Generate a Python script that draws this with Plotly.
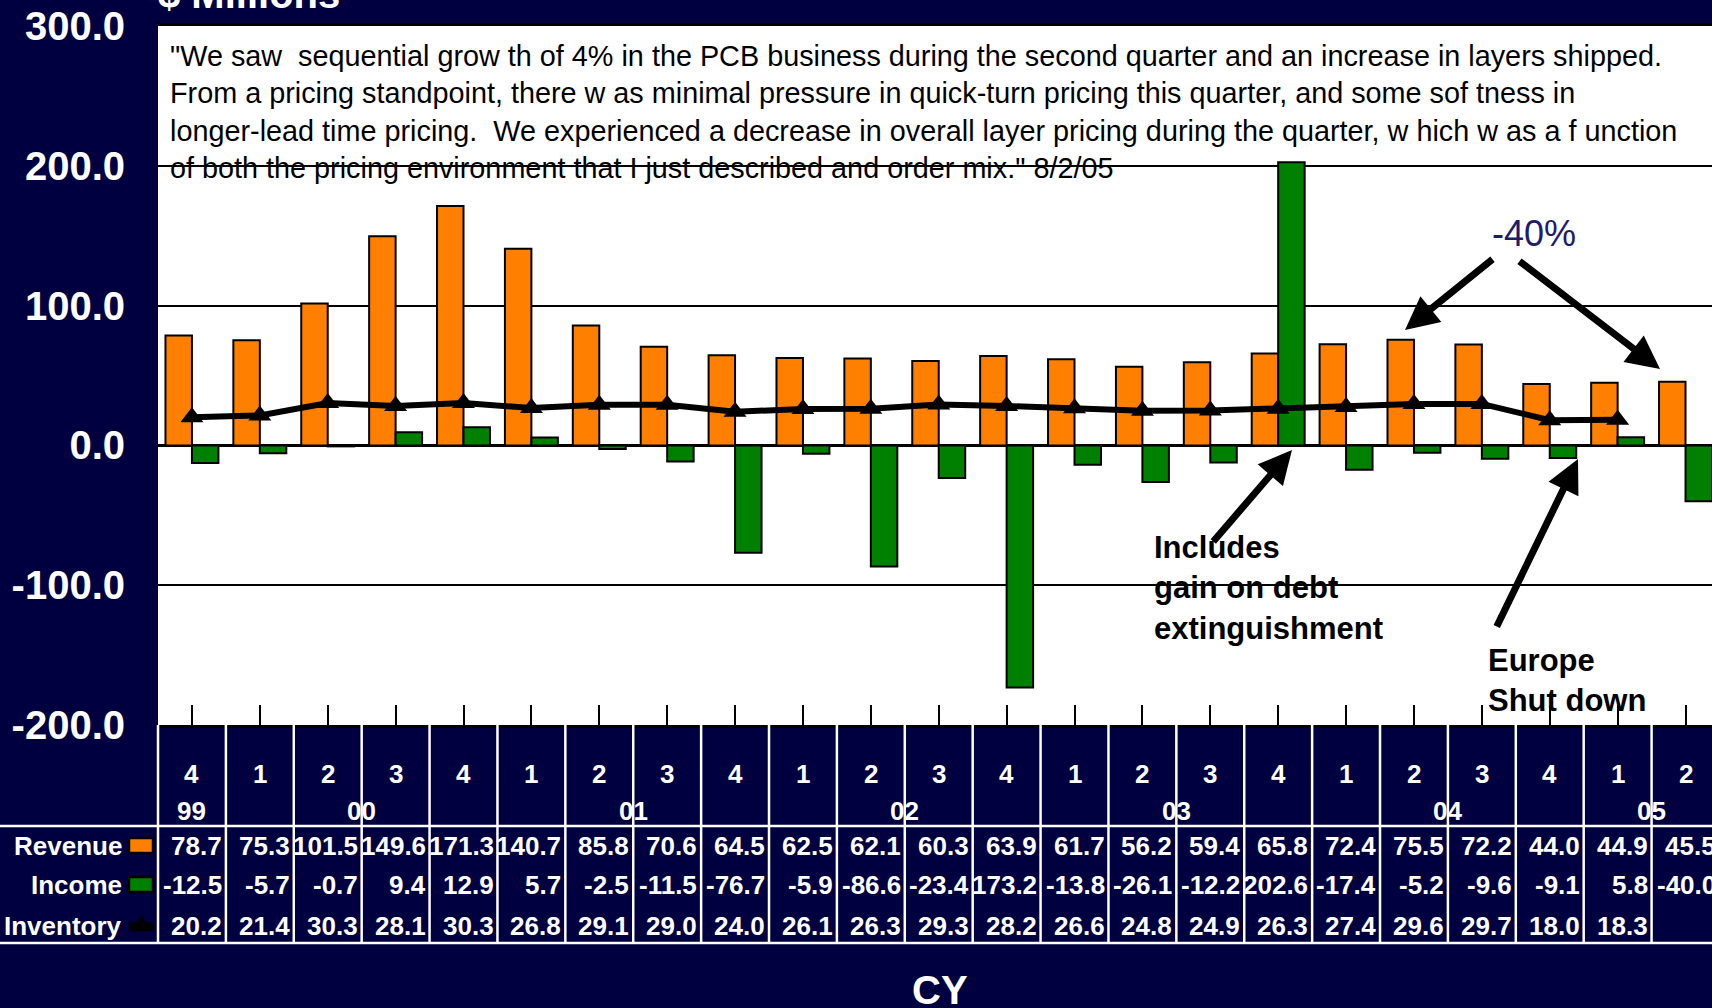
import plotly.graph_objects as go

# ---------------- data ----------------
QUARTERS = ["4Q99", "1Q00", "2Q00", "3Q00", "4Q00", "1Q01", "2Q01", "3Q01", "4Q01",
            "1Q02", "2Q02", "3Q02", "4Q02", "1Q03", "2Q03", "3Q03", "4Q03",
            "1Q04", "2Q04", "3Q04", "4Q04", "1Q05", "2Q05"]
QTR_LABELS = ["4", "1", "2", "3", "4", "1", "2", "3", "4", "1", "2", "3", "4",
              "1", "2", "3", "4", "1", "2", "3", "4", "1", "2"]
YEAR_OF_QTR = ["99", "00", "00", "00", "00", "01", "01", "01", "01", "02", "02", "02", "02",
               "03", "03", "03", "03", "04", "04", "04", "04", "05", "05"]
YEAR_LABELS = ["99", "00", "01", "02", "03", "04", "05"]

REVENUE = [78.7, 75.3, 101.5, 149.6, 171.3, 140.7, 85.8, 70.6, 64.5, 62.5, 62.1, 60.3,
           63.9, 61.7, 56.2, 59.4, 65.8, 72.4, 75.5, 72.2, 44.0, 44.9, 45.5]
INCOME = [-12.5, -5.7, -0.7, 9.4, 12.9, 5.7, -2.5, -11.5, -76.7, -5.9, -86.6, -23.4,
          -173.2, -13.8, -26.1, -12.2, 202.6, -17.4, -5.2, -9.6, -9.1, 5.8, -40.0]
INVENTORY = [20.2, 21.4, 30.3, 28.1, 30.3, 26.8, 29.1, 29.0, 24.0, 26.1, 26.3, 29.3,
             28.2, 26.6, 24.8, 24.9, 26.3, 27.4, 29.6, 29.7, 18.0, 18.3, None]

Y_TICKS = [-200, -100, 0, 100, 200, 300]

QUOTE = ('"We saw  sequential grow th of 4% in the PCB business during the second quarter and an increase in layers shipped.<br>'
         'From a pricing standpoint, there w as minimal pressure in quick-turn pricing this quarter, and some sof tness in<br>'
         'longer-lead time pricing.  We experienced a decrease in overall layer pricing during the quarter, w hich w as a f unction<br>'
         'of both the pricing environment that I just described and order mix." 8/2/05')

# ---------------- style / layout ----------------
NAVY = "#000040"
ORANGE = "#FF8000"
GREEN = "#008000"
FONT = "Liberation Sans, Arial, sans-serif"
W, H = 1712, 1008
PL, PR, PT, PB = 158, 1712, 26, 725
X_RANGE = [-0.5, 22.39]


def px(x):
    return (x - PL) / (PR - PL)


def py(y):
    return (PB - y) / (PB - PT)


def xp(k):
    return (k - X_RANGE[0]) / (X_RANGE[1] - X_RANGE[0])


def fmt(v):
    # table cells clip text that is wider than the cell
    return ("%.1f" % v)[-5:]


fig = go.Figure()
fig.add_trace(go.Bar(x=QUARTERS, y=REVENUE, name="Revenue",
                     marker=dict(color=ORANGE, line=dict(color="black", width=2))))
fig.add_trace(go.Bar(x=QUARTERS, y=INCOME, name="Income",
                     marker=dict(color=GREEN, line=dict(color="black", width=2))))
fig.add_trace(go.Scatter(x=QUARTERS, y=INVENTORY, name="Inventory", mode="lines+markers",
                         line=dict(color="black", width=6),
                         marker=dict(symbol="triangle-up", size=20, color="black")))

ann = []
shapes = []


def text_ann(x, y, text, font, xanchor="center", yanchor="middle", xref="paper", **kw):
    d = dict(xref=xref, yref="paper", x=x, y=y, text=text, showarrow=False,
             xanchor=xanchor, yanchor=yanchor, font=font)
    d.update(kw)
    ann.append(d)


# quote text
text_ann(px(168), py(112.5), QUOTE, dict(family=FONT, size=28.8, color="black"),
         xanchor="left", align="left")

# $ Millions (partially clipped at top)
text_ann(px(156), py(-6), "$ Millions", dict(family=FONT, size=40, color="white", weight="bold"),
         xanchor="left")

# -40% and arrows
text_ann(px(1534), py(233), "-40%", dict(family=FONT, size=36, color="#1c1c6e"))
ARROWS = [  # (head_x, head_y, tail_x, tail_y) in pixels
    (1405, 330, 1494, 258),
    (1660, 369, 1518, 260),
    (1292, 450, 1212, 543),
    (1578, 459, 1496, 628),
]
for hx, hy, tx, ty in ARROWS:
    ann.append(dict(xref="paper", yref="paper", x=px(hx), y=py(hy), ax=tx - hx, ay=ty - hy,
                    text="", showarrow=True, arrowhead=2, arrowsize=0.95, arrowwidth=7,
                    arrowcolor="black", standoff=0))

BOLD31 = dict(family=FONT, size=31, color="black", weight="bold")
text_ann(px(1152), py(588), "Includes<br>gain on debt<br>extinguishment", BOLD31,
         xanchor="left", align="left")
text_ann(px(1486), py(680), "Europe<br>Shut down", BOLD31, xanchor="left", align="left")

# ---------------- data table below the axis ----------------
TF = dict(family=FONT, size=26, color="white", weight="bold")
for i, q in enumerate(QTR_LABELS):
    text_ann(i, py(774), q, dict(family=FONT, size=26, color="white", weight="bold"), xref="x")
for yl in YEAR_LABELS:
    idx = [i for i, y in enumerate(YEAR_OF_QTR) if y == yl]
    text_ann(sum(idx) / len(idx), py(811), yl, TF, xref="x")

ROWS = [("Revenue", REVENUE, 846), ("Income", INCOME, 885), ("Inventory", INVENTORY, 926)]
for label, vals, yy in ROWS:
    text_ann(px(124), py(yy), label, TF, xanchor="right")
    for i, v in enumerate(vals):
        if v is None:
            continue
        text_ann(i, py(yy), fmt(v), TF, xanchor="right", xref="x", xshift=32)

text_ann(px(940), py(990), "CY", dict(family=FONT, size=40, color="white", weight="bold"))

# table grid lines
for k in range(len(QUARTERS) + 1):
    xv = xp(k - 0.5)
    if xv > 1:
        continue
    shapes.append(dict(type="line", xref="paper", yref="paper", x0=xv, x1=xv,
                       y0=py(PB), y1=py(943), line=dict(color="white", width=2.5)))
for yy in (826, 943):
    shapes.append(dict(type="line", xref="paper", yref="paper", x0=px(0), x1=1,
                       y0=py(yy), y1=py(yy), line=dict(color="white", width=2.5)))

# legend keys in table
shapes.append(dict(type="rect", xref="paper", yref="paper", x0=px(129), x1=px(153),
                   y0=py(853), y1=py(838), fillcolor=ORANGE, line=dict(color="black", width=2.5)))
shapes.append(dict(type="rect", xref="paper", yref="paper", x0=px(129), x1=px(153),
                   y0=py(892), y1=py(877), fillcolor=GREEN, line=dict(color="black", width=2.5)))
shapes.append(dict(type="line", xref="paper", yref="paper", x0=px(129), x1=px(153),
                   y0=py(926), y1=py(926), line=dict(color="black", width=8)))
shapes.append(dict(type="path", xref="paper", yref="paper",
                   path="M %f,%f L %f,%f L %f,%f Z" % (px(131), py(931), px(151), py(931), px(141), py(916)),
                   fillcolor="black", line=dict(color="black", width=1)))

fig.update_layout(
    width=W, height=H,
    margin=dict(l=PL, r=W - PR, t=PT, b=H - PB, pad=0),
    paper_bgcolor=NAVY, plot_bgcolor="white",
    barmode="group", bargap=0.22, bargroupgap=0,
    showlegend=False,
    annotations=ann, shapes=shapes,
    font=dict(family=FONT),
)
fig.update_xaxes(type="category", range=X_RANGE, showticklabels=False, showgrid=False,
                 ticks="inside", ticklen=20, tickwidth=2, tickcolor="black",
                 showline=True, linecolor="black", linewidth=3, mirror=True)
fig.update_yaxes(range=[-200, 300], tickvals=Y_TICKS, ticktext=["%.1f" % v for v in Y_TICKS],
                 tickfont=dict(family=FONT, size=40, color="white", weight="bold"),
                 ticklabelstandoff=32,
                 showgrid=True, gridcolor="black", gridwidth=1.5,
                 zeroline=True, zerolinecolor="black", zerolinewidth=2.5,
                 showline=False)

fig.write_html("out.html", config={"displayModeBar": False},
               post_script="document.body.style.margin='0';document.body.style.overflow='hidden';")
